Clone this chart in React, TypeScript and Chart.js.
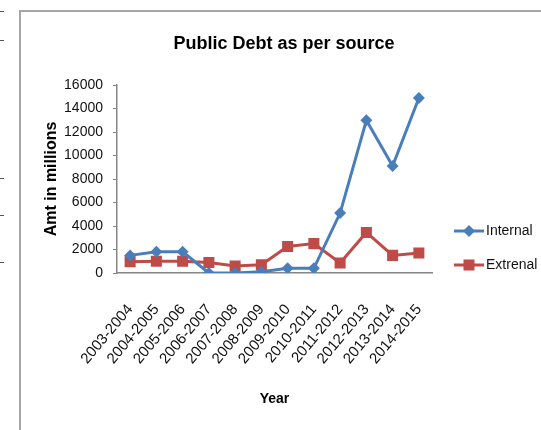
import React, { useEffect, useRef } from 'react';
import { Chart, registerables } from 'chart.js';

Chart.register(...registerables);

const categories = [
  '2003-2004', '2004-2005', '2005-2006', '2006-2007', '2007-2008', '2008-2009',
  '2009-2010', '2010-2011', '2011-2012', '2012-2013', '2013-2014', '2014-2015',
];
const internalValues = [1500, 1800, 1800, 0, 0, 100, 400, 400, 5100, 13000, 9100, 14900];
const externalValues = [950, 1000, 1000, 900, 600, 700, 2250, 2500, 850, 3450, 1500, 1700];
const yMin = 0;
const yMax = 16000;
const yStep = 2000;
const chartTitle = 'Public Debt as per source';
const yTitle = 'Amt in millions';
const xTitle = 'Year';

const BLUE = '#4A7EBB';
const RED = '#BE4B48';
const AXIS = '#868686';
const FONT = '"Liberation Sans", Arial, sans-serif';

const centeredTitle = {
  id: 'centeredTitle',
  afterDraw(chart: any) {
    const { ctx } = chart;
    ctx.save();
    ctx.fillStyle = '#000';
    ctx.font = `bold 18px ${FONT}`;
    ctx.textAlign = 'center';
    ctx.textBaseline = 'middle';
    ctx.fillText(chartTitle, chart.width / 2 + 3, 32);
    ctx.restore();
  },
};

const lineLegend = {
  id: 'lineLegend',
  afterDraw(chart: any) {
    const { ctx, chartArea } = chart;
    ctx.save();
    chart.data.datasets.forEach((ds: any, i: number) => {
      const y = chartArea.bottom - 42 + i * 34;
      const x0 = chartArea.right + 22;
      const x1 = x0 + 30;
      const xm = (x0 + x1) / 2;
      ctx.strokeStyle = ds.borderColor;
      ctx.lineWidth = 3;
      ctx.beginPath();
      ctx.moveTo(x0, y);
      ctx.lineTo(x1, y);
      ctx.stroke();
      ctx.fillStyle = ds.borderColor;
      ctx.beginPath();
      if (ds.pointStyle === 'rect') {
        const h = ds.pointRadius * Math.SQRT1_2;
        ctx.rect(xm - h, y - h, 2 * h, 2 * h);
      } else {
        const r = ds.pointRadius;
        ctx.moveTo(xm - r, y);
        ctx.lineTo(xm, y - r);
        ctx.lineTo(xm + r, y);
        ctx.lineTo(xm, y + r);
        ctx.closePath();
      }
      ctx.fill();
      ctx.fillStyle = '#111';
      ctx.font = `14px ${FONT}`;
      ctx.textBaseline = 'middle';
      ctx.textAlign = 'left';
      ctx.fillText(ds.label, x1 + 2, y);
    });
    ctx.restore();
  },
};

function LineChart() {
  const ref = useRef<HTMLCanvasElement | null>(null);
  useEffect(() => {
    if (!ref.current) return;
    const chart = new Chart(ref.current, {
      type: 'line',
      data: {
        labels: categories,
        datasets: [
          {
            label: 'Internal',
            data: internalValues,
            borderColor: BLUE,
            backgroundColor: BLUE,
            borderWidth: 3,
            pointStyle: 'rectRot',
            pointRadius: 6,
            pointBorderWidth: 0,
            tension: 0,
          },
          {
            label: 'Extrenal',
            data: externalValues,
            borderColor: RED,
            backgroundColor: RED,
            borderWidth: 3,
            pointStyle: 'rect',
            pointRadius: 7.8,
            pointBorderWidth: 0,
            tension: 0,
          },
        ],
      },
      options: {
        responsive: false,
        animation: false,
        devicePixelRatio: 1,
        layout: { padding: { top: 73, left: 15, right: 109, bottom: 15 } },
        plugins: {
          legend: { display: false },
          tooltip: { enabled: false },
          title: { display: false },
        },
        scales: {
          x: {
            type: 'category',
            offset: true,
            grid: { display: false },
            border: { display: true, color: AXIS, width: 1.5 },
            ticks: {
              minRotation: 50,
              maxRotation: 50,
              autoSkip: false,
              padding: 20,
              color: '#111',
              font: { family: FONT, size: 15 },
            },
            title: {
              display: true,
              text: xTitle,
              color: '#000',
              font: { family: FONT, size: 14, weight: 'bold' },
              padding: { top: 0, bottom: 7 },
            },
            afterFit(s: any) {
              s.height = 142;
            },
          },
          y: {
            min: yMin,
            max: yMax,
            grid: {
              display: true,
              drawOnChartArea: false,
              drawTicks: true,
              tickLength: 4,
              color: AXIS,
              lineWidth: 1,
            },
            border: { display: true, color: AXIS, width: 1.5 },
            ticks: {
              stepSize: yStep,
              padding: 10,
              color: '#111',
              font: { family: FONT, size: 14 },
              callback: (v: any) => String(v),
            },
            title: {
              display: true,
              text: yTitle,
              color: '#000',
              font: { family: FONT, size: 16, weight: 'bold' },
              padding: { top: 6, bottom: 0 },
            },
            afterFit(s: any) {
              s.width = 81;
            },
          },
        },
      },
      plugins: [centeredTitle, lineLegend],
    } as any);
    return () => chart.destroy();
  }, []);
  return (
    <canvas
      ref={ref}
      width={520}
      height={418}
      style={{ position: 'absolute', left: 21, top: 12, width: 520, height: 418 }}
    />
  );
}

const edgeMarks = [11, 40, 178, 215, 262];

export default function App() {
  return (
    <div style={{ position: 'absolute', left: 0, top: 0, width: 541, height: 430, background: '#fff', overflow: 'hidden' }}>
      {edgeMarks.map((t) => (
        <div
          key={t}
          style={{ position: 'absolute', left: 0, top: t, width: 4, height: 1, background: '#555' }}
        />
      ))}
      <div
        style={{
          position: 'absolute',
          left: 19,
          top: 10,
          right: 0,
          bottom: 0,
          borderLeft: '2px solid #a6a6a6',
          borderTop: '2px solid #a6a6a6',
        }}
      />
      <LineChart />
    </div>
  );
}
